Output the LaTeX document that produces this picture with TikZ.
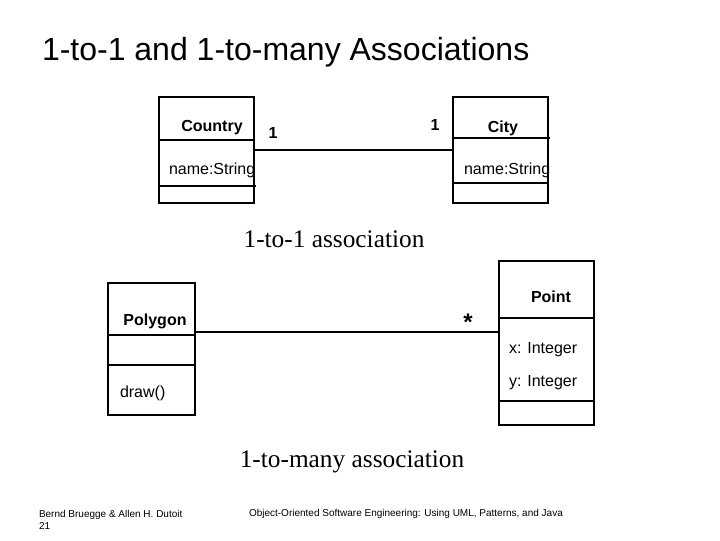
\documentclass[tikz,border=0pt]{standalone}
\usepackage{fontspec}
\setmainfont{Liberation Serif}
\setsansfont{Liberation Sans}
\usetikzlibrary{fit}

\tikzset{every picture/.style={line width=1.5pt}}
\tikzset{
  classbox/.style={draw, inner sep=0pt, line width=1.5pt},
  clsname/.style={inner sep=0.75pt, font=\sffamily\bfseries\fontsize{12}{14}\selectfont},
  clsattr/.style={anchor=west, inner sep=0.75pt, font=\sffamily\fontsize{12}{14}\selectfont},
  caption/.style={inner sep=0.75pt, font=\rmfamily\fontsize{19}{22}\selectfont},
  footer/.style={anchor=west, inner sep=0.75pt, font=\sffamily\fontsize{7.5}{9}\selectfont}
}

\begin{document}
\begin{tikzpicture}[x=0.75pt,y=0.75pt,yscale=-1,xscale=1]
	\useasboundingbox (0,0) rectangle (720,540);

	% Title
	\draw (40,52) node [anchor=west][inner sep=0.75pt][font=\sffamily\fontsize{24}{28}\selectfont] (title) {1-to-1 and 1-to-many Associations};

	%Class Boxes
	\node (country) [classbox, fit={(159,97) (254,203)}] {};
	\node (city) [classbox, fit={(453,97) (548,203)}] {};
	\node (polygon) [classbox, fit={(108,283) (195,415)}] {};
	\node (point) [classbox, fit={(499,261) (594,425)}] {};

	%Straight Lines
	\draw (159,140) -- (254,140) ;
	\draw (159,186) -- (256,186) ;
	\draw (453,138) -- (550,138) ;
	\draw (453,183) -- (548,183) ;
	\draw (108,335) -- (195,335) ;
	\draw (108,365) -- (195,365) ;
	\draw (499,318) -- (594,318) ;
	\draw (499,401) -- (594,401) ;

	% Text Node
	\draw (212,128) node [clsname] (countryname) {Country};
	\draw (167,170) node [clsattr] (countryattr) {name:String};
	\draw (503,128) node [clsname] (cityname) {City};
	\draw (462,170) node [clsattr] (cityattr) {name:String};
	\draw (155,321) node [clsname] (polygonname) {Polygon};
	\draw (118,393) node [clsattr] (polygonop) {draw()};
	\draw (551,297) node [clsname] (pointname) {Point};
	\draw (507,350) node [clsattr] (pointx) {x: Integer};
	\draw (507,383) node [clsattr] (pointy) {y: Integer};

	% Multiplicities
	\draw (273,133) node [clsname] (multcountry) {1};
	\draw (435,125) node [clsname] (multcity) {1};
	\draw (468,322) node [clsname][font=\sffamily\bfseries\fontsize{18}{20}\selectfont] (multpoint) {*};

	% Captions
	\draw (334,239) node [caption] (capone) {1-to-1 association};
	\draw (352,462) node [caption] (capmany) {1-to-many association};

	% Footer
	\draw (37,515) node [footer] (authors) {Bernd Bruegge \& Allen H. Dutoit};
	\draw (37,526) node [footer] (pagenum) {21};
	\draw (247,514) node [footer] (booktitle) {Object-Oriented Software Engineering: Using UML, Patterns, and Java};

	% Connection
	\draw (country.east) -- (city.west) ;
	% Connection
	\draw ([yshift=-12.75pt]polygon.east) -- ([yshift=-12.75pt]polygon.east -| point.west) ;

\end{tikzpicture}
\end{document}
